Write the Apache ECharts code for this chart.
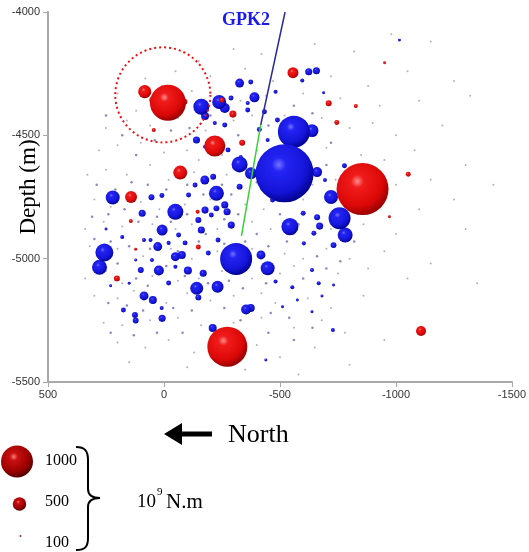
<!DOCTYPE html>
<html><head><meta charset="utf-8">
<script src="https://cdn.jsdelivr.net/npm/echarts@6/dist/echarts.min.js"></script>
<style>html,body{margin:0;padding:0;background:#fff}#c{width:529px;height:552px}</style>
</head><body><div id="c"></div>
<script>
// ---- data (x = North offset in m, y = depth in m, M = seismic moment 10^9 N.m)
const xRange = [-1500, 500];
const yRange = [-5500, -4000];
const legendMoments = [1000, 500, 100];
const wellUpper = [[-522, -4000], [-417, -4458]];
const wellLower = [[-417, -4458], [-334, -4908]];
const circleCenter = [5, -4336];
const circleRadiusX = 205;

const redEvents = [
[83,-4323,490],[48,-4357,300],[-17,-4368,1100],[-88,-4364,260],[-250,-4357,230],
[-297,-4414,300],[-219,-4543,715],[-337,-4530,260],[44,-4478,190],[-70,-4651,515],
[142,-4750,455],[-556,-4246,425],[-710,-4370,260],[-827,-4381,190],[-745,-4448,225],
[-951,-4206,150],[-1053,-4658,225],[-856,-4718,1475],[-273,-5357,1195],[-1108,-5293,395],
[143,-4847,190],[203,-5080,260],[-145,-4810,190],[-148,-4953,225],[122,-4962,150],[-972,-4830,150]
];

const blueEvents = [
[-161,-4384,575],[-177,-4422,330],[-238,-4365,515],[-262,-4389,395],[-326,-4288,360],
[-390,-4346,395],[-624,-4242,300],[-657,-4238,300],[-596,-4278,190],[-560,-4485,1000],
[-638,-4481,485],[-520,-4654,1610],[-660,-4649,395],[-778,-4623,225],[-326,-4618,575],
[-375,-4654,455],[-176,-4681,360],[-226,-4735,545],[-326,-4708,260],[-212,-4668,260],
[-720,-4750,515],[-411,-4476,225],[221,-4752,515],[-49,-4810,575],[-290,-4864,300],
[-262,-4782,300],[-272,-4810,300],[-177,-4803,300],[-148,-4843,260],[-161,-4884,300],
[94,-4816,300],[54,-4751,260],[8,-4884,425],[27,-4951,360],[257,-4975,630],
[278,-5035,545],[-49,-4992,360],[-77,-4985,330],[-311,-5001,1000],[-103,-5048,330],
[22,-5048,395],[100,-5046,260],[-169,-5059,300],[-141,-5120,485],[-231,-5114,455],
[86,-5151,360],[48,-5168,330],[-148,-5157,260],[-354,-5206,395],[-374,-5200,330],
[175,-5208,225],[125,-5228,260],[122,-5251,260],[8,-5242,300],[-210,-5281,330],
[-418,-4985,360],[-447,-5039,515],[-543,-4870,605],[-757,-4836,740],[-781,-4904,545],
[-671,-4868,300],[-660,-4832,260],[-731,-4945,260],[-646,-4897,225],[-600,-4816,225],
[-728,-5289,190],[-638,-5215,150],[-667,-5100,190],[-638,-5046,190],[-681,-5151,150],
[-226,-4796,260],[-140,-4519,300],[-688,-4327,150],[-1015,-4114,150],[-439,-5411,150],
[9,-4744,225],[-106,-4742,225],[-134,-4701,225],[-204,-4823,225],[-233,-4924,225],
[-63,-4904,225],[-20,-4936,190],[-91,-4936,225],[86,-4924,190],[180,-4912,190],
[-191,-4977,225],[52,-5005,190],[-49,-5033,190],[-20,-5099,225],
[-289,-4349,225],[-374,-4284,225],[-361,-4397,225],[-219,-4450,190],[-262,-4458,225],
[-361,-4369,190],[-433,-4404,225],[-489,-4438,225],[-447,-4519,190],[-276,-4559,225],
[-331,-4588,190],[-177,-4546,190],[-481,-4323,190],[-694,-4681,190],[-468,-4762,225],
[-603,-4938,190],[-481,-5093,190],[-553,-5116,190],[-575,-5168,150],[-511,-5195,150],
[-731,-5107,150],[58,-4924,190],[122,-5005,150],[10,-5200,190],[150,-5100,150],
[230,-5110,150],[250,-4880,150]
];

const microEvents = [
[-300,-4150],[-420,-4170],[-650,-4130],[-820,-4160],[-980,-4090],[-1150,-4120],[-150,-4200],
[-50,-4240],[-200,-4260],[-350,-4230],[-470,-4280],[-720,-4260],[-880,-4300],[-1050,-4240],[-1250,-4280],[80,-4270],
[200,-4330],[120,-4400],[-120,-4320],[-330,-4360],[-440,-4340],[-600,-4330],[-760,-4350],[-930,-4380],[-1100,-4360],[-1320,-4340],[10,-4300],
[250,-4470],[160,-4440],[60,-4460],[-60,-4430],[-180,-4480],[-300,-4440],[-380,-4420],[-520,-4420],[-680,-4430],[-800,-4470],[-900,-4450],[-1000,-4500],[-1200,-4460],
[280,-4560],[200,-4540],[100,-4530],[0,-4570],[-100,-4560],[-150,-4600],[-250,-4580],[-400,-4560],[-700,-4550],[-850,-4580],[-950,-4600],[-1080,-4560],[-1300,-4620],
[330,-4660],[250,-4640],[160,-4660],[60,-4620],[-20,-4680],[-130,-4650],[-270,-4660],[-420,-4720],[-640,-4700],[-740,-4680],[-1000,-4700],[-1150,-4680],[-1420,-4700],
[300,-4760],[230,-4790],[100,-4770],[20,-4800],[-90,-4780],[-200,-4760],[-350,-4780],[-430,-4800],[-600,-4760],[-800,-4780],[-920,-4760],[-1100,-4800],[-1250,-4760],
[340,-4880],[260,-4850],[180,-4870],[50,-4860],[-50,-4880],[-120,-4860],[-230,-4880],[-380,-4850],[-460,-4880],[-560,-4900],[-720,-4880],[-860,-4860],[-1000,-4900],[-1300,-4880],
[320,-4950],[200,-4960],[90,-4990],[-30,-4960],[-120,-5000],[-230,-4970],[-380,-4960],[-520,-4980],[-600,-5000],[-700,-4960],[-800,-5000],[-950,-4970],[-1150,-5020],
[340,-5080],[250,-5050],[180,-5100],[50,-5070],[-60,-5090],[-150,-5080],[-250,-5050],[-380,-5080],[-500,-5060],[-560,-5030],[-750,-5060],[-880,-5040],[-1050,-5080],[-1350,-5100],
[300,-5150],[200,-5160],[130,-5130],[-10,-5180],[-100,-5140],[-200,-5170],[-300,-5150],[-420,-5140],[-480,-5180],[-620,-5160],[-720,-5200],[-860,-5150],
[260,-5260],[180,-5270],[60,-5250],[-60,-5240],[-160,-5270],[-300,-5260],[-420,-5240],[-560,-5280],[-680,-5250],[-780,-5300],
[200,-5340],[80,-5360],[-20,-5330],[-130,-5380],[-400,-5350],[-500,-5400],[-650,-5360],[-950,-5330],
[150,-5420],[-100,-5440],[-350,-5450],[-580,-5470],[-800,-5430]
];

const microDarkEvents = [
[250,-4420],[180,-4500],[120,-4580],[40,-4520],[-30,-4480],[-110,-4470],[-200,-4420],[-320,-4500],[-450,-4460],[-560,-4380],[-640,-4410],[-720,-4530],
[290,-4700],[210,-4720],[140,-4690],[70,-4700],[-10,-4720],[-100,-4700],[-170,-4740],[-250,-4700],[-290,-4740],[-400,-4690],[-470,-4650],[-620,-4600],[-700,-4620],[-820,-4650],
[310,-4830],[240,-4820],[170,-4800],[110,-4850],[30,-4830],[-30,-4850],[-100,-4820],[-180,-4900],[-260,-4840],[-320,-4820],[-400,-4900],[-500,-4820],[-580,-4860],[-820,-4930],[-880,-4800],
[300,-4920],[230,-4930],[150,-4950],[60,-4960],[-60,-4970],[-150,-4930],[-260,-4940],[-350,-4930],[-450,-4950],[-530,-4930],[-660,-4990],[-760,-5010],
[280,-5020],[200,-5020],[120,-5080],[70,-5110],[-10,-5030],[-90,-5070],[-190,-5100],[-280,-5090],[-340,-5120],[-440,-5100],[-600,-5080],[-700,-5040],
[240,-5180],[160,-5190],[90,-5210],[-40,-5200],[-120,-5210],[-260,-5200],[-330,-5250],[-460,-5220],[-540,-5240],[-640,-5280],
[230,-5300],[130,-5310],[30,-5300],[-80,-5300],[-200,-5330],[-330,-5310],[-450,-5300],[-560,-5330]
];

// ---- styling helpers
function sizeOf(m){ return 32*Math.pow(m/1000,1.25); }
function sphere(c0,c1,c2,c3){
  return {type:'radial',x:0.4,y:0.35,r:0.68,colorStops:[
    {offset:0,color:c0},{offset:0.18,color:c1},{offset:0.7,color:c2},{offset:1,color:c3}]};
}
const redFill = sphere('#ff8c8c','#f01c1c','#dc0808','#900000');
const blueFill = sphere('#7474ff','#2424f4','#1414d8','#00008a');
const legendFill = sphere('#ff7a7a','#c81010','#9a0000','#4a0000');
const serif = '"Liberation Serif","DejaVu Serif",serif';

const sortBySize = a => a.slice().sort((p,q)=>p[2]-q[2]);

const chart = echarts.init(document.getElementById('c'), null, {renderer:'canvas'});
chart.setOption({
  animation:false,
  backgroundColor:'#fff',
  grid:{left:48,right:12,top:12,bottom:170},
  xAxis:{type:'value',min:xRange[0],max:xRange[1],interval:500,inverse:true,
    axisLine:{onZero:false,lineStyle:{color:'#a8a8a8',width:2}},
    axisTick:{show:true,length:5,lineStyle:{color:'#a8a8a8'}},
    axisLabel:{color:'#333',fontSize:11,fontFamily:'"Liberation Sans",Arial',margin:7,formatter:v=>String(v)},
    splitLine:{show:false}},
  yAxis:{type:'value',min:yRange[0],max:yRange[1],interval:500,
    axisLine:{show:true,onZero:false,lineStyle:{color:'#a8a8a8',width:2}},
    axisTick:{show:true,length:5,lineStyle:{color:'#a8a8a8'}},
    axisLabel:{color:'#333',fontSize:11,fontFamily:'"Liberation Sans",Arial',margin:8,formatter:v=>String(v)},
    splitLine:{show:false}},
  series:[
    {type:'scatter',name:'micro',data:microEvents,symbolSize:2,silent:true,
     itemStyle:{color:'rgba(110,110,150,0.55)',opacity:1},z:1},
    {type:'scatter',name:'microDark',data:microDarkEvents,symbolSize:2.5,silent:true,
     itemStyle:{color:'rgba(60,60,140,0.6)',opacity:1},z:1},
    {type:'scatter',name:'blue',data:sortBySize(blueEvents),symbolSize:d=>sizeOf(d[2]),
     itemStyle:{color:blueFill,opacity:1},z:2},
    {type:'scatter',name:'red',data:sortBySize(redEvents),symbolSize:d=>sizeOf(d[2]),
     itemStyle:{color:redFill,opacity:1},z:3},
    {type:'line',name:'GPK2 upper',data:wellUpper,symbol:'none',
     lineStyle:{color:'#2a2a9a',width:1.5},z:4},
    {type:'line',name:'GPK2 lower',data:wellLower,symbol:'none',
     lineStyle:{color:'#3ad03a',width:1.5},z:4}
  ]
});

const cPix = chart.convertToPixel({gridIndex:0}, circleCenter);
const ePix = chart.convertToPixel({gridIndex:0}, [circleCenter[0]-circleRadiusX, circleCenter[1]]);
const rPix = Math.abs(ePix[0]-cPix[0]);

const braceStyle = {fill:'none',stroke:'#000',lineWidth:2};
chart.setOption({graphic:[
  {type:'circle',shape:{cx:cPix[0],cy:cPix[1],r:rPix},z:10,
   style:{fill:'none',stroke:'#ee1111',lineWidth:2,lineDash:[2,3]}},
  {type:'text',x:29,y:187,rotation:Math.PI/2,z:10,
   style:{text:'Depth (m)',font:'23px '+serif,fill:'#000',textAlign:'center',textVerticalAlign:'middle'}},
  {type:'text',x:246,y:20,z:10,
   style:{text:'GPK2',font:'bold 18px '+serif,fill:'#1a1aee',textAlign:'center',textVerticalAlign:'middle'}},
  {type:'polygon',z:10,shape:{points:[[164,434],[182,423],[182,431.5],[212,431.5],[212,436.5],[182,436.5],[182,445]]},
   style:{fill:'#000'}},
  {type:'text',x:228,y:435,z:10,
   style:{text:'North',font:'26px '+serif,fill:'#000',textAlign:'left',textVerticalAlign:'middle'}},
  {type:'circle',shape:{cx:17,cy:461.5,r:sizeOf(legendMoments[0])/2},style:{fill:legendFill}},
  {type:'circle',shape:{cx:19.5,cy:504,r:sizeOf(legendMoments[1])/2},style:{fill:legendFill}},
  {type:'circle',shape:{cx:20.5,cy:536,r:Math.max(1,sizeOf(legendMoments[2])/2)},style:{fill:'#8a2a4a'}},
  {type:'text',x:45,y:461,style:{text:String(legendMoments[0]),font:'16px '+serif,fill:'#000',textVerticalAlign:'middle'}},
  {type:'text',x:45,y:502,style:{text:String(legendMoments[1]),font:'16px '+serif,fill:'#000',textVerticalAlign:'middle'}},
  {type:'text',x:45,y:543,style:{text:String(legendMoments[2]),font:'16px '+serif,fill:'#000',textVerticalAlign:'middle'}},
  {type:'bezierCurve',shape:{x1:76,y1:447,cpx1:85,cpy1:447,cpx2:88,cpy2:451,x2:88,y2:460},style:braceStyle},
  {type:'line',shape:{x1:88,y1:460,x2:88,y2:489},style:braceStyle},
  {type:'bezierCurve',shape:{x1:88,y1:489,cpx1:88,cpy1:495,cpx2:92,cpy2:498,x2:100,y2:498},style:braceStyle},
  {type:'bezierCurve',shape:{x1:100,y1:498,cpx1:92,cpy1:498,cpx2:88,cpy2:501,x2:88,y2:507},style:braceStyle},
  {type:'line',shape:{x1:88,y1:507,x2:88,y2:538},style:braceStyle},
  {type:'bezierCurve',shape:{x1:88,y1:538,cpx1:88,cpy1:547,cpx2:85,cpy2:550,x2:76,y2:550},style:braceStyle},
  {type:'text',x:137,y:502,style:{text:'10',font:'19px '+serif,fill:'#000',textVerticalAlign:'middle'}},
  {type:'text',x:157,y:492,style:{text:'9',font:'11px '+serif,fill:'#000',textVerticalAlign:'middle'}},
  {type:'text',x:166,y:502,style:{text:'N.m',font:'21px '+serif,fill:'#000',textVerticalAlign:'middle'}}
]});
</script></body></html>
